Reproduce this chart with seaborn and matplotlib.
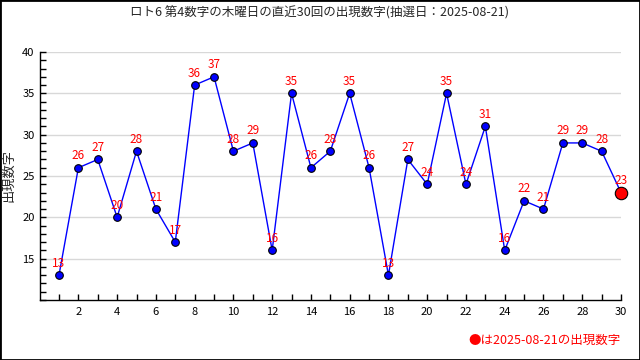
import matplotlib
matplotlib.use("Agg")
import matplotlib.pyplot as plt
from matplotlib.ticker import MultipleLocator
from matplotlib.patches import Rectangle
import pandas as pd
import seaborn as sns

# 直近30回の第4数字（木曜日）
kaisu = list(range(1, 31))
suji = [13, 26, 27, 20, 28, 21, 17, 36, 37, 28,
        29, 16, 35, 26, 28, 35, 26, 13, 27, 24,
        35, 24, 31, 16, 22, 21, 29, 29, 28, 23]
x_ticks = list(range(2, 31, 2))
y_ticks = [15, 20, 25, 30, 35, 40]
title = "ロト6 第4数字の木曜日の直近30回の出現数字(抽選日：2025-08-21)"
ylabel = "出現数字"
legend_text = "●は2025-08-21の出現数字"

df = pd.DataFrame({"kaisu": kaisu, "suji": suji})

sns.set_style("white")
plt.rcParams['font.family'] = ['Noto Sans CJK JP', 'DejaVu Sans']

fig = plt.figure(figsize=(6.4, 3.6), dpi=100)
ax = fig.add_axes([40 / 640, 1 - 300 / 360, 581 / 640, 248 / 360])

sns.lineplot(data=df, x="kaisu", y="suji", ax=ax, color="blue", linewidth=1,
             marker="o", markersize=5.5, markerfacecolor="blue",
             markeredgecolor="black", markeredgewidth=0.8)
last = df.iloc[[-1]]
sns.scatterplot(data=last, x="kaisu", y="suji", ax=ax, color="red", s=80,
                edgecolor="black", linewidth=0.8, zorder=5, clip_on=False)

for k, v in zip(kaisu, suji):
    ax.annotate(str(v), (k, v), xytext=(0, 4), textcoords="offset points",
                ha="center", va="bottom", color="red", fontsize=8.5)

ax.set_xlim(0.02, 30)
ax.set_ylim(10, 40)
ax.set_xticks(x_ticks)
ax.xaxis.set_minor_locator(MultipleLocator(1))
ax.set_yticks(y_ticks)
ax.yaxis.set_minor_locator(MultipleLocator(1))
ax.tick_params(axis="both", which="both", bottom=True, left=True,
               direction="in", length=4, width=1, colors="black")
ax.tick_params(axis="both", which="major", labelsize=8)
ax.tick_params(axis="y", which="major", pad=4)
ax.tick_params(axis="x", which="major", pad=5)
ax.yaxis.grid(True, color="#d8d8d8", linewidth=1)
ax.set_axisbelow(True)
for s in ["top", "right"]:
    ax.spines[s].set_visible(False)
for s in ["left", "bottom"]:
    ax.spines[s].set_color("black")
    ax.spines[s].set_linewidth(1)
ax.set_xlabel("")
ax.set_ylabel(ylabel, fontsize=9.5)
ax.yaxis.set_label_coords(-25 / 581, 0.5)

fig.text(0.5, 1 - 13 / 360, title, ha="center", va="center", fontsize=9)
fig.text(0.97, 1 - 340 / 360, legend_text, ha="right", va="center",
         color="red", fontsize=9)
fig.patches.append(Rectangle((0, 0), 1, 1, transform=fig.transFigure,
                             fill=False, edgecolor="black", linewidth=2))

fig.savefig("out.png", dpi=100)
